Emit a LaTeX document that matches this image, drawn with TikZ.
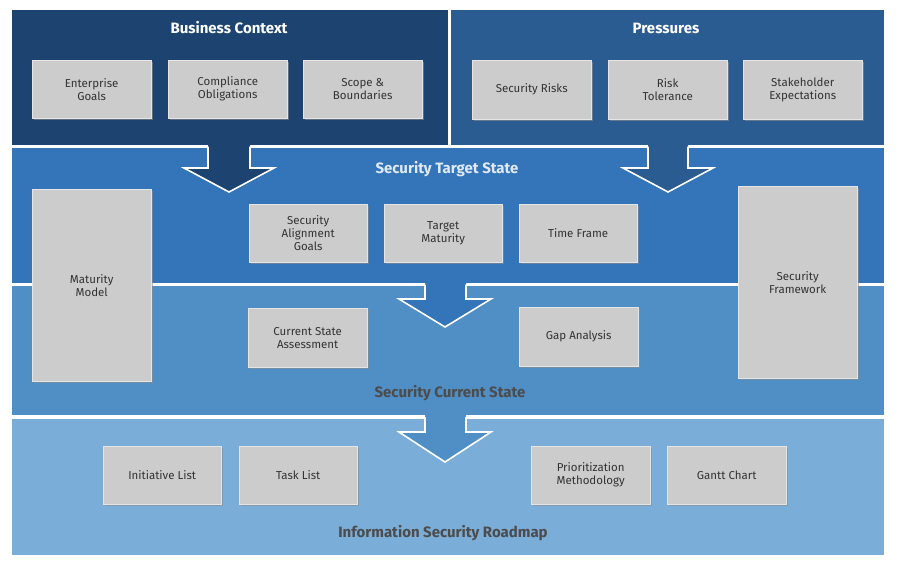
\documentclass[tikz,border=0pt]{standalone}
\usepackage{fontspec}
\setmainfont{Fira Sans}
\begin{document}
\definecolor{cA}{HTML}{1D4470}
\definecolor{cB}{HTML}{2B5C91}
\definecolor{cC}{HTML}{3474B8}
\definecolor{cD}{HTML}{4F8FC6}
\definecolor{cE}{HTML}{7AAED8}
\definecolor{bx}{HTML}{CCCCCC}
\begin{tikzpicture}[x=1pt,y=-1pt,
  box/.style={fill=bx,draw=white!80!gray,line width=0.4pt,align=center,font=\fontsize{11.5}{13}\selectfont\color{black!80},anchor=north west,inner sep=0pt,
    preaction={fill=black!45,opacity=0.6,transform canvas={xshift=1.5pt,yshift=-1.5pt}}},
  ttl/.style={font=\bfseries\fontsize{15}{17}\selectfont}]
\useasboundingbox (0,0) rectangle (900,566);
% bands
\fill[cA] (12,10) rectangle (448,145);
\fill[cB] (451,10) rectangle (884,145);
\fill[cC] (12,148) rectangle (884,283);
\fill[cD] (12,286) rectangle (884,415);
\fill[cE] (12,419) rectangle (884,555);
% arrows
\newcommand\blockarrow[8]{%
 \fill[#8] (#1,#7-3) -- (#1,#5) -- (#3,#5) -- ({(#3+#4)/2},#6) -- (#4,#5) -- (#2,#5) -- (#2,#7-3) -- cycle;
 \draw[white,line width=1.6pt,line join=miter] (#1,#7) -- (#1,#5) -- (#3,#5) -- ({(#3+#4)/2},#6) -- (#4,#5) -- (#2,#5) -- (#2,#7);}
\blockarrow{208}{250}{184}{274}{168}{192}{146.5}{cA}
\blockarrow{648}{688}{623}{713}{168}{192}{146.5}{cB}
\blockarrow{425}{466}{399}{491}{299}{327}{284.5}{cC}
\blockarrow{425}{466}{399}{491}{432}{462}{417}{cD}
% titles
\node[ttl,white] (t1) at (229,28) {Business Context};
\node[ttl,white] (t2) at (666,28) {Pressures};
\node[ttl,white!85!cC] (t3) at (447,169) {Security Target State};
\node[ttl,black!70] (t4) at (450,393) {Security Current State};
\node[ttl,black!70] (t5) at (443,533) {Information Security Roadmap};
% boxes
\newcommand\bx[6]{\node[box,minimum width=#4-#2,minimum height=#5-#3] (#1) at (#2,#3) {#6};}
\bx{b1}{32}{60}{151}{118}{Enterprise\\Goals}
\bx{b2}{168}{60}{287}{118}{Compliance\\Obligations}
\bx{b3}{303}{60}{422}{118}{Scope \&\\Boundaries}
\bx{b4}{472}{60}{591}{119}{Security Risks}
\bx{b5}{608}{60}{727}{119}{Risk\\Tolerance}
\bx{b6}{743}{60}{862}{119}{Stakeholder\\Expectations}
\bx{c1}{249}{204}{367}{262}{Security\\Alignment\\Goals}
\bx{c2}{384}{204}{502}{262}{Target\\Maturity}
\bx{c3}{519}{204}{637}{262}{Time Frame}
\bx{m1}{32}{189}{151}{381}{Maturity\\Model}
\bx{m2}{738}{186}{857}{378}{Security\\Framework}
\bx{d1}{248}{308}{367}{367}{Current State\\Assessment}
\bx{d2}{519}{307}{638}{366}{Gap Analysis}
\bx{e1}{103}{446}{221}{504}{Initiative List}
\bx{e2}{239}{446}{357}{504}{Task List}
\bx{e3}{531}{446}{650}{504}{Prioritization\\Methodology}
\bx{e4}{667}{446}{786}{504}{Gantt Chart}
\end{tikzpicture}
\end{document}
